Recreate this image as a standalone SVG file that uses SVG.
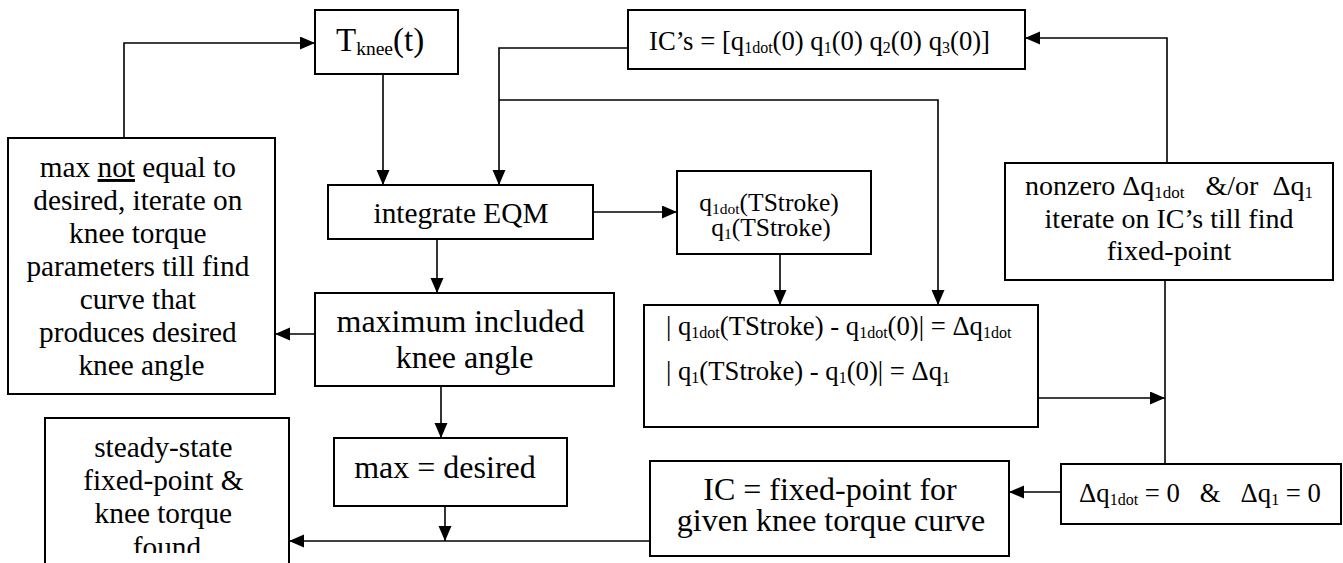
<svg xmlns="http://www.w3.org/2000/svg" width="1343" height="563" viewBox="0 0 1343 563">
  <style>
    .box { fill: #ffffff; stroke: #000000; stroke-width: 2; }
    .wire { fill: none; stroke: #000000; stroke-width: 1.6; }
    .arr { marker-end: url(#head); }
    .t { font-family: "Liberation Serif", "Times New Roman", serif; fill: #000000; }
    .c { text-anchor: middle; }
    .pre { white-space: pre; }
  </style>
  <defs>
    <marker id="head" markerUnits="userSpaceOnUse" markerWidth="16" markerHeight="14" refX="15" refY="6.5" orient="auto">
      <path d="M0,0 L15,6.5 L0,13 z" fill="#000000"/>
    </marker>
    <clipPath id="foundClip">
      <rect x="45" y="418" width="244" height="135"/>
    </clipPath>
  </defs>

  <!-- connectors -->
  <g id="connectors">
    <polyline class="wire arr" points="124,138 124,43 315,43"/>
    <polyline class="wire arr" points="383,74 383,185"/>
    <polyline class="wire arr" points="628,48 499,48 499,185"/>
    <polyline class="wire arr" points="499,100 938,100 938,305"/>
    <polyline class="wire arr" points="593,212 677,212"/>
    <polyline class="wire arr" points="780,254 780,305"/>
    <polyline class="wire arr" points="437,239 437,293"/>
    <polyline class="wire arr" points="315,334 275,334"/>
    <polyline class="wire arr" points="441,386 441,438"/>
    <polyline class="wire arr" points="445,506 445,541"/>
    <polyline class="wire arr" points="650,541 289,541"/>
    <polyline class="wire arr" points="1061,492 1009,492"/>
    <polyline class="wire" points="1165,280 1165,464"/>
    <polyline class="wire arr" points="1038,398 1165,398"/>
    <polyline class="wire arr" points="1167,163 1167,38 1025,38"/>
  </g>

  <!-- knee torque input -->
  <g id="tknee">
    <rect class="box" x="315" y="10" width="143" height="64"/>
    <text class="t" x="336" y="51" font-size="33">T<tspan font-size="19.5" dy="4">knee</tspan><tspan dy="-4">(t)</tspan></text>
  </g>

  <!-- initial conditions -->
  <g id="ics">
    <rect class="box" x="628" y="10" width="397" height="59"/>
    <text class="t" x="649" y="50" font-size="26.7">IC’s = [q<tspan font-size="16" dy="3">1dot</tspan><tspan dy="-3">(0) q</tspan><tspan font-size="16" dy="3">1</tspan><tspan dy="-3">(0) q</tspan><tspan font-size="16" dy="3">2</tspan><tspan dy="-3">(0) q</tspan><tspan font-size="16" dy="3">3</tspan><tspan dy="-3">(0)]</tspan></text>
  </g>

  <!-- knee torque iteration -->
  <g id="iterate-torque">
    <rect class="box" x="8" y="138" width="267" height="256"/>
    <text class="t c" x="141.5" font-size="29.3">
      <tspan x="141.5" y="177">max <tspan text-decoration="underline">not</tspan> equal to</tspan>
      <tspan x="141.5" y="210">desired, iterate on</tspan>
      <tspan x="141.5" y="243">knee torque</tspan>
      <tspan x="141.5" y="276">parameters till find</tspan>
      <tspan x="141.5" y="309">curve that</tspan>
      <tspan x="141.5" y="342">produces desired</tspan>
      <tspan x="141.5" y="375">knee angle</tspan>
    </text>
  </g>

  <!-- integration -->
  <g id="integrate">
    <rect class="box" x="328" y="185" width="265" height="54"/>
    <text class="t c" x="461" y="223" font-size="29.3">integrate EQM</text>
  </g>

  <!-- end-of-stroke states -->
  <g id="stroke-states">
    <rect class="box" x="677" y="171" width="194" height="83"/>
    <text class="t c" x="769" y="211" font-size="25.5">q<tspan font-size="15.5" dy="3">1dot</tspan><tspan dy="-3">(TStroke)</tspan></text>
    <text class="t c" x="771" y="236" font-size="25.5">q<tspan font-size="15.5" dy="3">1</tspan><tspan dy="-3">(TStroke)</tspan></text>
  </g>

  <!-- knee angle result -->
  <g id="max-angle">
    <rect class="box" x="315" y="293" width="299" height="93"/>
    <text class="t c" x="464.5" font-size="32">
      <tspan x="464.5" y="332">maximum included</tspan>
      <tspan x="464.5" y="368">knee angle</tspan>
    </text>
  </g>

  <!-- state differences -->
  <g id="differences">
    <rect class="box" x="644" y="305" width="394" height="122"/>
    <text class="t" x="666" y="335" font-size="26.7">| q<tspan font-size="16" dy="3">1dot</tspan><tspan dy="-3">(TStroke) - q</tspan><tspan font-size="16" dy="3">1dot</tspan><tspan dy="-3">(0)| = Δq</tspan><tspan font-size="16" dy="3">1dot</tspan></text>
    <text class="t" x="666" y="380" font-size="26.7">| q<tspan font-size="16" dy="3">1</tspan><tspan dy="-3">(TStroke) - q</tspan><tspan font-size="16" dy="3">1</tspan><tspan dy="-3">(0)| = Δq</tspan><tspan font-size="16" dy="3">1</tspan></text>
  </g>

  <!-- IC iteration -->
  <g id="iterate-ics">
    <rect class="box" x="1005" y="163" width="328" height="117"/>
    <text class="t c pre" x="1169" y="195" font-size="28">nonzero Δq<tspan font-size="17" dy="3">1dot</tspan><tspan dy="-3">   &amp;/or  Δq</tspan><tspan font-size="17" dy="3">1</tspan></text>
    <text class="t c" x="1169" y="228" font-size="28">iterate on IC’s till find</text>
    <text class="t c" x="1169" y="260" font-size="28">fixed-point</text>
  </g>

  <!-- max equals desired -->
  <g id="max-desired">
    <rect class="box" x="334" y="438" width="233" height="68"/>
    <text class="t c" x="445" y="478" font-size="32">max = desired</text>
  </g>

  <!-- zero differences -->
  <g id="zero-diff">
    <rect class="box" x="1061" y="464" width="280" height="60"/>
    <text class="t c pre" x="1200" y="502" font-size="26.7">Δq<tspan font-size="16" dy="3">1dot</tspan><tspan dy="-3"> = 0   &amp;   Δq</tspan><tspan font-size="16" dy="3">1</tspan><tspan dy="-3"> = 0</tspan></text>
  </g>

  <!-- fixed point -->
  <g id="fixed-point">
    <rect class="box" x="650" y="461" width="359" height="95"/>
    <text class="t c" x="830" y="500" font-size="32">IC = fixed-point for</text>
    <text class="t c" x="831" y="531" font-size="32">given knee torque curve</text>
  </g>

  <!-- final result -->
  <g id="steady-state">
    <rect class="box" x="45" y="418" width="244" height="170"/>
    <text class="t c" x="167" font-size="29.3" clip-path="url(#foundClip)">
      <tspan x="167" y="457">steady-state</tspan>
      <tspan x="167" y="490">fixed-point &amp;</tspan>
      <tspan x="167" y="523">knee torque</tspan>
      <tspan x="167" y="557">found</tspan>
    </text>
  </g>
</svg>
